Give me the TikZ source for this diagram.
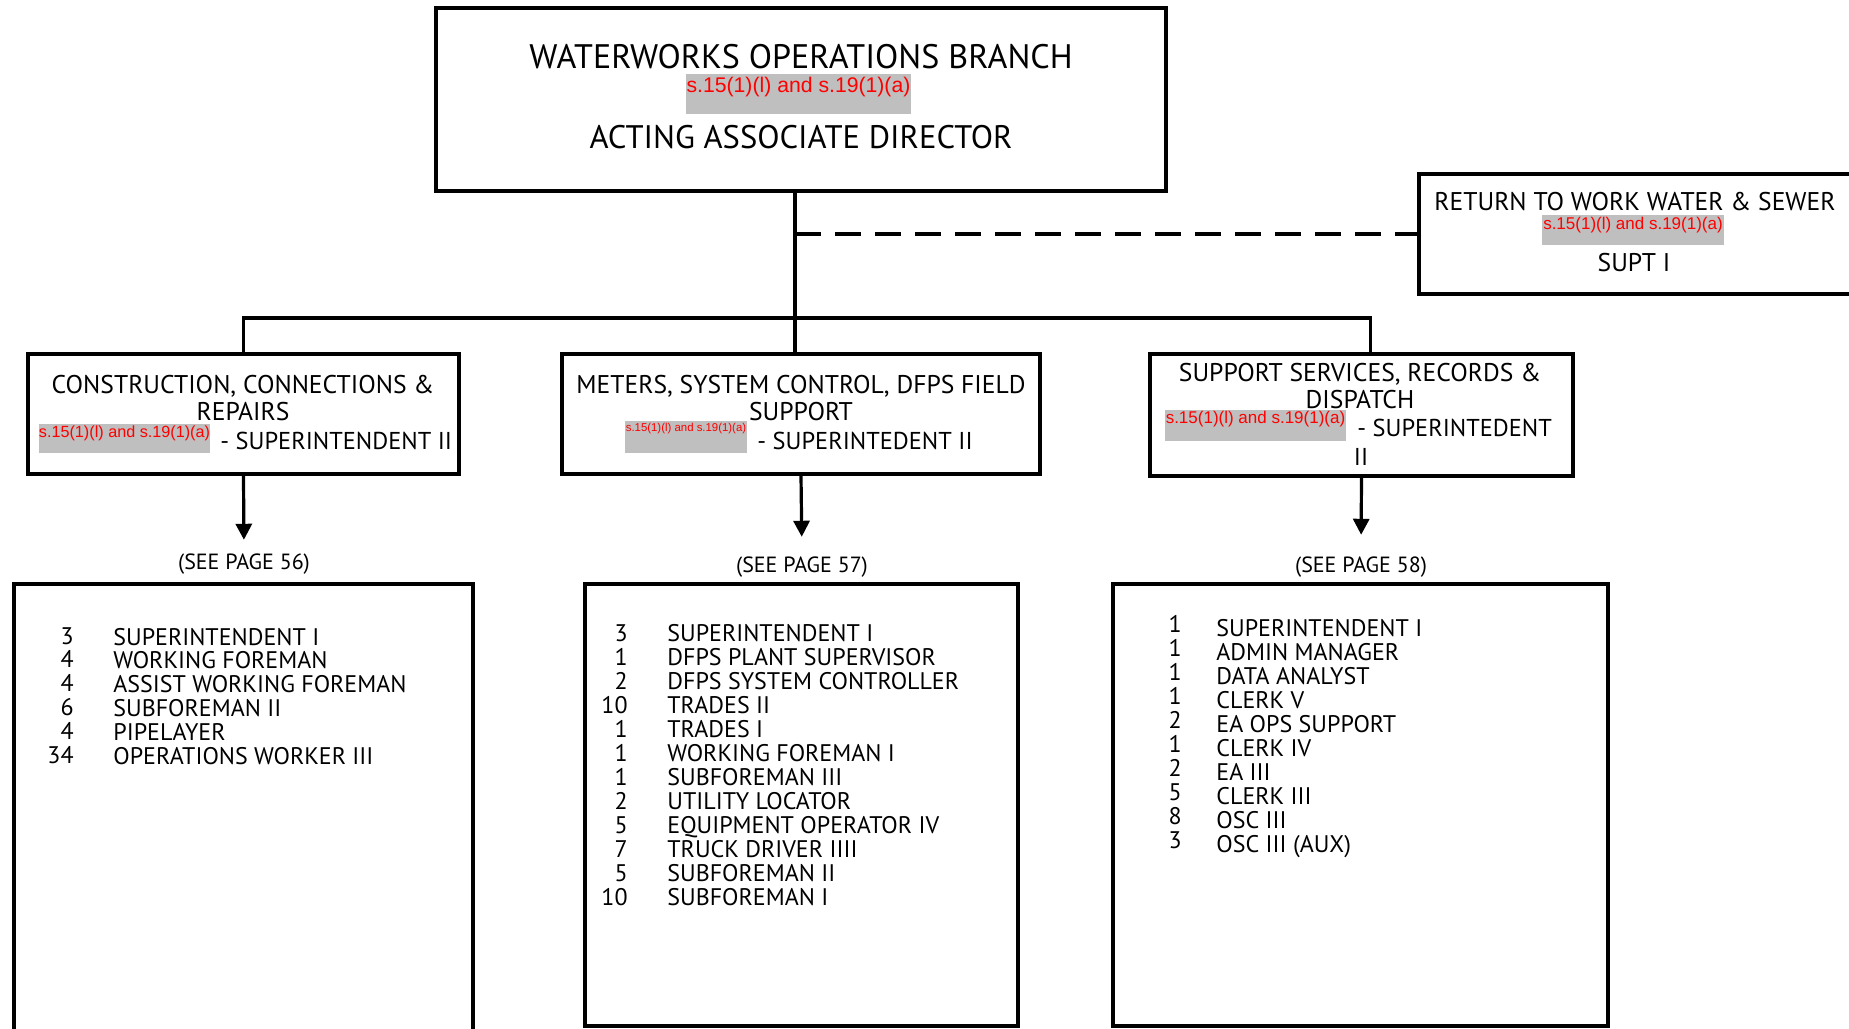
\documentclass[tikz,border=0pt]{standalone}
\usepackage{fontspec}
\setmainfont{PT Sans}
\newfontfamily\redactfont{Liberation Sans}
\usetikzlibrary{arrows.meta,positioning}
\definecolor{redactgray}{RGB}{191,191,191}
\definecolor{redactred}{RGB}{255,0,0}

\begin{document}
\begin{tikzpicture}[x=0.5pt, y=-0.5pt, >={Triangle[width=8pt,length=8pt]},
  orgbox/.style={draw, line width=1.6pt, inner sep=0pt},
  link/.style={line width=1.6pt},
  redact/.style={fill=redactgray, inner sep=0pt},
  redtext/.style={text=redactred, inner sep=0pt, text depth=0pt, font=\redactfont\fontsize{#1}{#1}\selectfont},
  bigtitle/.style={inner sep=0pt, text depth=0pt, font=\fontsize{#1}{#1}\selectfont},
  head/.style={inner sep=0pt, text depth=0pt, align=center, font=\fontsize{12.8}{13.5}\selectfont},
  role/.style={inner sep=0pt, text depth=0pt, font=\fontsize{12.2}{13.5}\selectfont},
  pagenote/.style={inner sep=0pt, text depth=0pt, font=\fontsize{11}{11}\selectfont},
  item/.style={inner sep=0pt, anchor=base west, font=\fontsize{12}{12}\selectfont},
  count/.style={inner sep=0pt, anchor=base east, font=\fontsize{12}{12}\selectfont}]
  \useasboundingbox (0,0) rectangle (1849,1029);

  % boxes
  \node[orgbox, minimum width=365pt, minimum height=91.5pt] (branch) at (801,99.5) {};
  \node[orgbox, minimum width=225.5pt, minimum height=60pt] (rtw) at (1644.5,234) {};
  \node[orgbox, minimum width=215.5pt, minimum height=60pt] (ccr) at (243.5,414) {};
  \node[orgbox, minimum width=239pt, minimum height=60pt] (meters) at (801,414) {};
  \node[orgbox, minimum width=211.5pt, minimum height=61pt] (support) at (1361.5,415) {};
  \node[orgbox, minimum width=229.5pt, minimum height=228pt] (ccrlist) at (243.5,812) {};
  \node[orgbox, minimum width=216.5pt, minimum height=221pt] (meterslist) at (801.5,805) {};
  \node[orgbox, minimum width=247.5pt, minimum height=221pt] (supportlist) at (1360.5,805) {};

  % branch
  \node[bigtitle=17] (branchname) at (801,56) {WATERWORKS OPERATIONS BRANCH};
  \node[redact, minimum width=112.5pt, minimum height=20pt] (branchrd) at (798.5,94) {};
  \node[redtext=10.6, below=1.5pt of branchrd.north] (branchrt) {s.15(1)(l) and s.19(1)(a)};
  \node[bigtitle=16.3] (branchrole) at (801,137) {ACTING ASSOCIATE DIRECTOR};

  % return to work
  \node[head] (rtwname) at (1635,201) {RETURN TO WORK WATER \& SEWER};
  \node[redact, minimum width=91pt, minimum height=15pt] (rtwrd) at (1633,230) {};
  \node[redtext=8.5, below=1pt of rtwrd.north] (rtwrt) {s.15(1)(l) and s.19(1)(a)};
  \node[head] (rtwrole) at (1634,262) {SUPT I};

  % sections
  \node[head] (ccrname) at (243,397.5) {CONSTRUCTION, CONNECTIONS \&\\REPAIRS};
  \node[redact, minimum width=85.5pt, minimum height=14.5pt] (ccrrd) at (124.5,438.5) {};
  \node[redtext=8.1, below=1pt of ccrrd.north] (ccrrt) {s.15(1)(l) and s.19(1)(a)};
  \node[role, anchor=west] (ccrrole) at (220,441) {- SUPERINTENDENT II};

  \node[head] (metersname) at (801,397.5) {METERS, SYSTEM CONTROL, DFPS FIELD\\SUPPORT};
  \node[redact, minimum width=61pt, minimum height=16pt] (metersrd) at (686,437) {};
  \node[redtext=5.7, below=1pt of metersrd.north] (metersrt) {s.15(1)(l) and s.19(1)(a)};
  \node[role, anchor=west] (metersrole) at (757,441) {- SUPERINTEDENT II};

  \node[head] (supportname) at (1360,385.5) {SUPPORT SERVICES, RECORDS \&\\DISPATCH};
  \node[redact, minimum width=90.5pt, minimum height=15.5pt] (supportrd) at (1255.5,425.5) {};
  \node[redtext=8.5, below=0.5pt of supportrd.north] (supportrt) {s.15(1)(l) and s.19(1)(a)};
  \node[role, anchor=west] (supportrole) at (1357,428) {- SUPERINTEDENT};
  \node[role] (supportrole2) at (1361,457) {II};

  % page notes
  \node[pagenote] (ccrpage) at (244,562) {(SEE PAGE 56)};
  \node[pagenote] (meterspage) at (802,565) {(SEE PAGE 57)};
  \node[pagenote] (supportpage) at (1361,565) {(SEE PAGE 58)};

  % staff lists
  \foreach \n/\t [count=\i] in {3/SUPERINTENDENT I, 4/WORKING FOREMAN, 4/ASSIST WORKING FOREMAN,
      6/SUBFOREMAN II, 4/PIPELAYER, 34/OPERATIONS WORKER III} {
    \node[count] (ccrn\i) at (74,{644+23.8*(\i-1)}) {\n};
    \node[item] (ccrt\i) at (113,{645+23.8*(\i-1)}) {\t};
  }
  \foreach \n/\t [count=\i] in {3/SUPERINTENDENT I, 1/DFPS PLANT SUPERVISOR, 2/DFPS SYSTEM CONTROLLER,
      10/TRADES II, 1/TRADES I, 1/WORKING FOREMAN I, 1/SUBFOREMAN III, 2/UTILITY LOCATOR,
      5/EQUIPMENT OPERATOR IV, 7/TRUCK DRIVER IIII, 5/SUBFOREMAN II, 10/SUBFOREMAN I} {
    \node[count] (metersn\i) at (628,{641+24*(\i-1)}) {\n};
    \node[item] (meterst\i) at (667,{641+24*(\i-1)}) {\t};
  }
  \foreach \n/\t [count=\i] in {1/SUPERINTENDENT I, 1/ADMIN MANAGER, 1/DATA ANALYST, 1/CLERK V,
      2/EA OPS SUPPORT, 1/CLERK IV, 2/EA III, 5/CLERK III, 8/OSC III, 3/OSC III (AUX)} {
    \node[count] (supportn\i) at (1182,{632+24*(\i-1)}) {\n};
    \node[item] (supportt\i) at (1216,{636+24*(\i-1)}) {\t};
  }

  % connectors
  \coordinate (spine) at (795,318);
  \draw[link] (branch.south -| spine) -- (spine);
  \draw[link] (ccr.north) |- (spine) -| ([xshift=4.5pt]support.north);
  \draw[link] (spine) -- (meters.north -| spine);
  \draw[link, dash pattern=on 13pt off 7pt] (rtw.west -| spine) -- (rtw.west);
  \draw[link, ->, shorten >=7pt] (ccr.south) -- (ccrpage.north);
  \draw[link, ->, shorten >=10pt] (meters.south) -- (meterspage.north);
  \draw[link, ->, shorten >=11pt] (support.south) -- (supportpage.north);
\end{tikzpicture}
\end{document}
